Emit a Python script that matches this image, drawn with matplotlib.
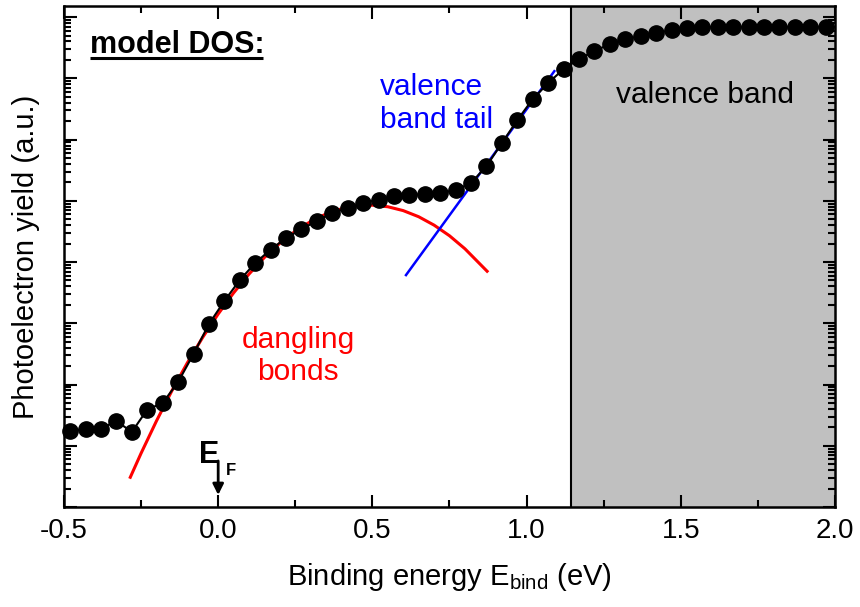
import numpy as np
import matplotlib
matplotlib.use("Agg")
import matplotlib.pyplot as plt
from matplotlib.ticker import MultipleLocator, FixedLocator, NullFormatter

plt.rcParams["font.family"] = ["Liberation Sans", "DejaVu Sans"]
plt.rcParams["mathtext.fontset"] = "custom"
plt.rcParams["mathtext.rm"] = "Liberation Sans"
plt.rcParams["mathtext.bf"] = "Liberation Sans:bold"

# measured photoelectron yield (arb. units) vs binding energy (eV)
energy = np.round(np.arange(-0.48, 2.0, 0.05), 2)
yield_meas = [
    17.4, 18.8, 19.1, 25.4, 16.8, 39.1, 49.9, 110, 315, 972,
    2310, 5080, 9630, 1.60e4, 2.46e4, 3.46e4, 4.67e4, 6.31e4, 7.62e4, 9.19e4,
    1.05e5, 1.20e5, 1.24e5, 1.29e5, 1.34e5, 1.50e5, 1.95e5, 3.69e5, 8.77e5, 2.08e6,
    4.58e6, 8.36e6, 1.42e7, 2.06e7, 2.79e7, 3.62e7, 4.37e7, 4.90e7, 5.48e7, 6.14e7,
    6.61e7, 6.87e7, 6.87e7, 6.87e7, 6.87e7, 6.87e7, 6.87e7, 6.87e7, 6.87e7, 6.87e7,
]

# dangling-bond gaussian (model DOS)
db_energy = [-0.285, -0.25, -0.20, -0.15, -0.10, -0.05, 0.00, 0.05, 0.10, 0.15,
             0.20, 0.25, 0.30, 0.35, 0.40, 0.45, 0.50, 0.55, 0.60, 0.65,
             0.70, 0.75, 0.80, 0.872]
db_yield = [3.06, 7.55, 25.5, 79.3, 226, 592, 1420, 3140, 6370, 1.19e4,
            2.03e4, 3.19e4, 4.60e4, 6.10e4, 7.41e4, 8.28e4, 8.49e4, 8.00e4, 6.92e4, 5.50e4,
            4.01e4, 2.69e4, 1.65e4, 7080]

# exponential valence band tail
tail_energy = [0.609, 1.09]
tail_yield = [6130, 1.31e7]

vb_edge = 1.145

fig = plt.figure(figsize=(8.6, 6.07), dpi=100)
ax = fig.add_axes([0.0744, 0.1647, 0.8965, 0.8253])

# axes setup: log yield, decade majors with 2..9 minors, ticks inside on all sides
ax.set_yscale("log")
ax.set_xlim(-0.5, 2.0)
ax.set_ylim(1, 10 ** 8.18)
decades = [10.0 ** n for n in range(0, 9)]
minors = [m * d for d in decades for m in range(2, 10)]
ax.yaxis.set_major_locator(FixedLocator(decades))
ax.yaxis.set_minor_locator(FixedLocator(minors))
ax.yaxis.set_major_formatter(NullFormatter())
ax.yaxis.set_minor_formatter(NullFormatter())
ax.xaxis.set_major_locator(FixedLocator([-0.5, 0.0, 0.5, 1.0, 1.5, 2.0]))
ax.xaxis.set_minor_locator(MultipleLocator(0.25))
ax.set_xticklabels(["-0.5", "0.0", "0.5", "1.0", "1.5", "2.0"])

ax.tick_params(which="both", direction="in", top=True, right=True, width=1.5)
ax.tick_params(which="major", length=9)
ax.tick_params(which="minor", length=5)
ax.tick_params(axis="x", labelsize=20, pad=8)
for s in ax.spines.values():
    s.set_linewidth(1.8)

ax.axvspan(vb_edge, 2.0, color="#c0c0c0", lw=0, zorder=0)
ax.axvline(vb_edge, color="black", lw=1.5, zorder=1)

ax.plot(db_energy, db_yield, color="#ff0000", lw=2.2, zorder=3)
ax.plot(tail_energy, tail_yield, color="#0000ff", lw=1.8, zorder=3)
ax.plot(energy, yield_meas, color="black", lw=1.5, marker="o", ms=11,
        mec="black", mfc="black", zorder=4, clip_on=False)

ax.set_xlabel(r"Binding energy $\mathregular{E_{bind}}$ (eV)", fontsize=21, labelpad=12)
ax.set_ylabel("Photoelectron yield (a.u.)", fontsize=21, labelpad=14)

xt = ax.get_xaxis_transform()
ax.text(0.034, 0.906, "model DOS:", transform=ax.transAxes,
        fontsize=22, fontweight="bold", va="baseline", ha="left")
ax.plot([0.034, 0.258], [0.896, 0.896], color="black", lw=2.2,
        transform=ax.transAxes, solid_capstyle="butt")
ax.text(0.525, 0.806, "valence\nband tail", transform=xt, color="#0000ff",
        fontsize=21.5, va="center", ha="left", linespacing=1.25)
ax.text(1.579, 0.822, "valence band", transform=xt, color="black",
        fontsize=21.5, va="center", ha="center")
ax.text(0.26, 0.301, "dangling\nbonds", transform=xt, color="#ff0000",
        fontsize=21.5, va="center", ha="center", multialignment="center",
        linespacing=1.2)

# Fermi level marker
ax.text(0.005, 0.088, "E", transform=xt, fontsize=22, fontweight="bold",
        ha="right", va="baseline")
ax.text(0.024, 0.064, "F", transform=xt, fontsize=12, fontweight="bold",
        ha="left", va="baseline")
ax.annotate("", xy=(0, 0.024), xytext=(0, 0.092), xycoords=xt, textcoords=xt,
            arrowprops=dict(arrowstyle="-|>", color="black", lw=2,
                            mutation_scale=16, shrinkA=0, shrinkB=0))

fig.savefig("out.png", dpi=100)
